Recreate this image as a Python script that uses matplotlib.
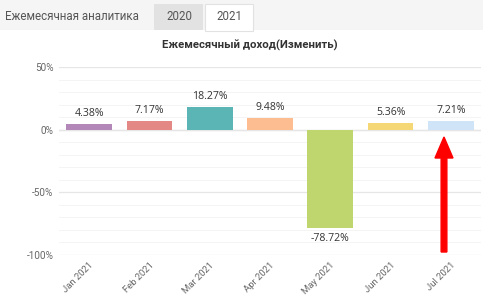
import matplotlib.pyplot as plt
from matplotlib.patches import Rectangle, FancyArrow
from matplotlib.ticker import MultipleLocator, FuncFormatter

months = ["Jan 2021", "Feb 2021", "Mar 2021", "Apr 2021", "May 2021", "Jun 2021", "Jul 2021"]
income_change = [4.38, 7.17, 18.27, 9.48, -78.72, 5.36, 7.21]
bar_colors = ["#b487b9", "#e38884", "#5ab5b4", "#fdbd91", "#bed66d", "#f6d776", "#cfe4f7"]
tab_labels = ["Ежемесячная аналитика", "2020", "2021"]
chart_title = "Ежемесячный доход(Изменить)"

W, H = 483, 295
fig = plt.figure(figsize=(W / 100, H / 100), dpi=100)
fig.patch.set_facecolor("white")

# top tab strip
fig.patches.append(Rectangle((0, (H - 30) / H), 1, 30 / H, transform=fig.transFigure,
                             facecolor="#f5f5f5", edgecolor="none", zorder=0))
fig.patches.append(Rectangle((154 / W, (H - 30) / H), 49 / W, 26 / H, transform=fig.transFigure,
                             facecolor="#e2e2e2", edgecolor="none", zorder=1))
fig.patches.append(Rectangle((205 / W, (H - 31) / H), 48 / W, 27 / H, transform=fig.transFigure,
                             facecolor="white", edgecolor="#e2e2e2", linewidth=0.8, zorder=1))
tab_x = [72, 179, 229]
for lbl, tx in zip(tab_labels, tab_x):
    fig.text(tx / W, (H - 17) / H, lbl, ha="center", va="center", fontsize=8.3,
             color="#555555", family="Roboto", zorder=2)

fig.text(250 / W, (H - 45) / H, chart_title, ha="center", va="center", fontsize=8.2,
         fontweight="bold", color="#333333", family="Roboto")

ax = fig.add_axes([59 / W, 40 / H, 422 / W, 188 / H])
x = range(len(months))
bars = ax.bar(x, income_change, width=0.76, color=bar_colors, zorder=3)

for xi, v in zip(x, income_change):
    if v >= 0:
        ax.text(xi, v + 4, f"{v:.2f}%", ha="center", va="bottom", fontsize=7.6, color="#333333",
                family="Open Sans")
    else:
        ax.text(xi, v - 4, f"{v:.2f}%", ha="center", va="top", fontsize=7.6, color="#333333",
                family="Open Sans")

ax.set_xlim(-0.5, len(months) - 0.5)
ax.set_ylim(-100, 50)
ax.yaxis.set_major_locator(MultipleLocator(50))
ax.yaxis.set_minor_locator(MultipleLocator(10))
ax.yaxis.set_major_formatter(FuncFormatter(lambda v, p: f"{v:.0f}%"))
ax.grid(axis="y", which="major", color="#e6e6e6", linewidth=0.9, zorder=0)
ax.grid(axis="y", which="minor", color="#f4f4f4", linewidth=0.7, zorder=0)
ax.axhline(0, color="#e6e6e6", linewidth=1.0, zorder=1)
for s in ax.spines.values():
    s.set_visible(False)
ax.tick_params(axis="both", which="both", length=0)
ax.tick_params(axis="y", labelsize=7.2, labelcolor="#666666", pad=4)
ax.set_xticks(list(x))
ax.set_xticklabels(months, rotation=45, ha="right", rotation_mode="anchor",
                   fontsize=6.8, color="#666666")
ax.tick_params(axis="x", pad=4)
for lab in ax.get_xticklabels() + ax.get_yticklabels():
    lab.set_family("Roboto")

# red arrow pointing at July bar
fig.patches.append(FancyArrow(444 / W, (H - 252) / H, 0, (252 - 137) / H, width=3.5 / H,
                              head_width=18 / W, head_length=21 / H, length_includes_head=True,
                              transform=fig.transFigure, color="#ff0000", zorder=5))

fig.savefig("out.png", dpi=100)
